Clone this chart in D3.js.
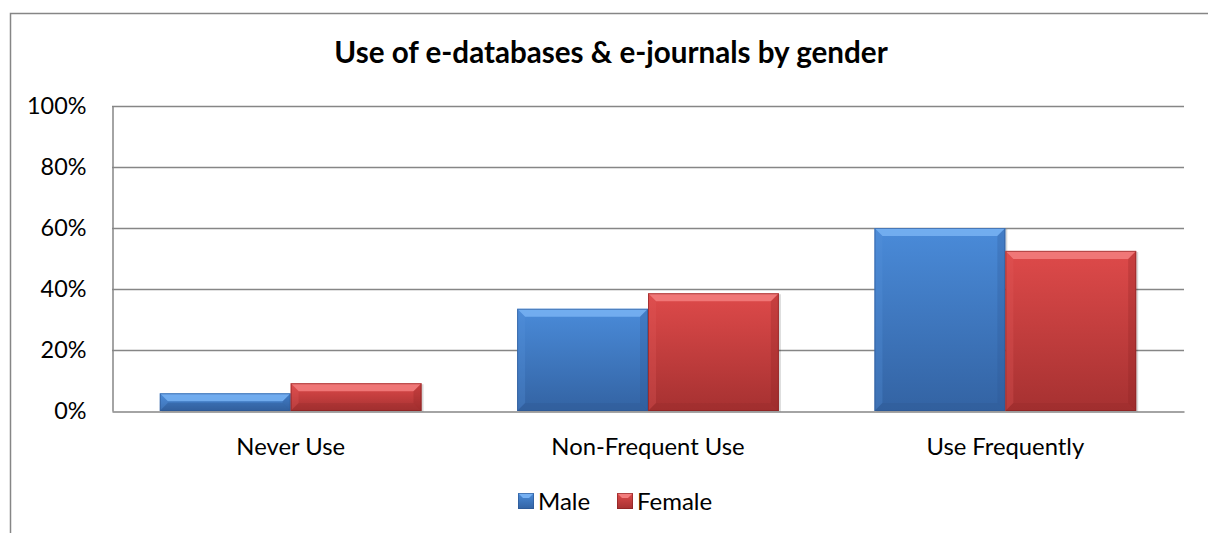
<!DOCTYPE html>
<html><head><meta charset="utf-8">
<script src="https://cdn.jsdelivr.net/npm/d3@7"></script>
<style>html,body{margin:0;padding:0;background:#fff;}svg{display:block;}</style>
</head><body>
<script>
const categories = ["Never Use", "Non-Frequent Use", "Use Frequently"];
const seriesNames = ["Male", "Female"];
const maleValues = [0.058, 0.335, 0.60];
const femaleValues = [0.091, 0.386, 0.525];
const yTicks = [0, 0.2, 0.4, 0.6, 0.8, 1.0];
const titleText = "Use of e-databases & e-journals by gender";

const W = 1208, H = 533;
const font = "Lato, 'Open Sans', sans-serif";
const svg = d3.select("body").append("svg").attr("width", W).attr("height", H);
const defs = svg.append("defs");

const palettes = {
  Male:   {top:"#4a8bd9", bot:"#3363a3", tb:"#76b0f2", lb:"#5593dc", rb:"#2b5591", bb:"#2c558c"},
  Female: {top:"#de4a4a", bot:"#a63131", tb:"#f27c7c", lb:"#e25858", rb:"#862020", bb:"#8e2626"}
};
seriesNames.forEach(s => {
  const g = defs.append("linearGradient").attr("id", "g" + s).attr("x1", 0).attr("y1", 0).attr("x2", 0).attr("y2", 1);
  g.append("stop").attr("offset", "0%").attr("stop-color", palettes[s].top);
  g.append("stop").attr("offset", "100%").attr("stop-color", palettes[s].bot);
});

// outer chart border
svg.append("rect").attr("x", 10.5).attr("y", 13.5).attr("width", W + 20).attr("height", H + 20)
  .attr("fill", "none").attr("stroke", "#868686").attr("stroke-width", 1.5);

const plot = {left: 112, right: 1184, top: 106, bottom: 411};
const x = d3.scaleBand().domain(categories).range([plot.left, plot.right]).paddingInner(0).paddingOuter(0);
const gw = 0.7325;
const xs = d3.scaleBand().domain(seriesNames)
  .range([x.bandwidth() * (1 - gw) / 2, x.bandwidth() * (1 + gw) / 2]).padding(0);
const y = d3.scaleLinear().domain([0, 1]).range([plot.bottom, plot.top]);

// gridlines
svg.append("g").selectAll("line").data(yTicks.filter(t => t > 0)).join("line")
  .attr("x1", plot.left).attr("x2", plot.right)
  .attr("y1", d => Math.round(y(d)) + 0.5).attr("y2", d => Math.round(y(d)) + 0.5)
  .attr("stroke", "#868686").attr("stroke-width", 1.3);

// y axis
const yAxis = d3.axisLeft(y).tickValues(yTicks).tickFormat(d3.format(".0%")).tickSize(0).tickPadding(26);
const ya = svg.append("g").attr("transform", `translate(${plot.left + 0.5},0)`).call(yAxis);
ya.select(".domain").attr("stroke", "#868686").attr("stroke-width", 1.5);
ya.selectAll("text").attr("font-family", font).attr("font-size", 23.4).attr("fill", "#000");

// bars
const data = [];
categories.forEach((c, i) => {
  data.push({cat: c, s: "Male", v: maleValues[i]});
  data.push({cat: c, s: "Female", v: femaleValues[i]});
});
const bars = svg.append("g").selectAll("g").data(data).join("g");
bars.each(function(d) {
  const g = d3.select(this);
  const x0 = x(d.cat) + xs(d.s), w = xs.bandwidth();
  const y0 = y(d.v), y1 = y(0), h = y1 - y0;
  const p = palettes[d.s];
  const b = Math.min(8, h / 2);
  g.append("rect").attr("x", x0 + 2).attr("y", y0 + 1).attr("width", w).attr("height", h)
    .attr("fill", "#000").attr("opacity", 0.15);
  g.append("rect").attr("x", x0).attr("y", y0).attr("width", w).attr("height", h).attr("fill", `url(#g${d.s})`);
  const poly = (pts, fill, op) => g.append("polygon").attr("points", pts.map(q => q.join(",")).join(" ")).attr("fill", fill).attr("opacity", op);
  poly([[x0, y0], [x0 + w, y0], [x0 + w - b, y0 + b], [x0 + b, y0 + b]], p.tb, 0.9);
  poly([[x0, y0], [x0 + b, y0 + b], [x0 + b, y1 - b], [x0, y1]], p.lb, 0.3);
  poly([[x0 + w, y0], [x0 + w, y1], [x0 + w - b, y1 - b], [x0 + w - b, y0 + b]], p.rb, 0.25);
  poly([[x0, y1], [x0 + b, y1 - b], [x0 + w - b, y1 - b], [x0 + w, y1]], p.bb, 0.25);
  g.append("rect").attr("x", x0 + 0.5).attr("y", y0 + 0.5).attr("width", w - 1).attr("height", h - 1)
    .attr("fill", "none").attr("stroke", p.rb).attr("stroke-opacity", 0.6).attr("stroke-width", 1);
});

// x axis
const xAxis = d3.axisBottom(x).tickSize(0).tickPadding(27);
const xa = svg.append("g").attr("transform", `translate(0,${plot.bottom + 0.5})`).call(xAxis);
xa.select(".domain").attr("stroke", "#868686").attr("stroke-width", 1.5);
xa.selectAll("text").attr("font-family", font).attr("font-size", 23.8).attr("fill", "#000");

// title
svg.append("text").attr("x", 611).attr("y", 63).attr("text-anchor", "middle")
  .attr("font-family", font).attr("font-weight", "bold").attr("font-size", 29.6).attr("fill", "#000").text(titleText);

// legend
const legendX = [518, 617];
const lg = svg.append("g").selectAll("g").data(seriesNames).join("g")
  .attr("transform", (d, i) => `translate(${legendX[i]},493)`);
lg.each(function(s) {
  const g = d3.select(this);
  const p = palettes[s];
  const sz = 16, b = 5;
  g.append("rect").attr("width", sz).attr("height", sz).attr("fill", `url(#g${s})`);
  g.append("polygon").attr("points", `0,0 ${sz},0 ${sz - b},${b} ${b},${b}`).attr("fill", p.tb);
  g.append("rect").attr("x", 0.5).attr("y", 0.5).attr("width", sz - 1).attr("height", sz - 1)
    .attr("fill", "none").attr("stroke", p.rb).attr("stroke-opacity", 0.6);
  g.append("text").attr("x", sz + 4).attr("y", 17).attr("font-family", font).attr("font-size", 24)
    .attr("fill", "#000").text(s);
});
</script>
</body></html>
